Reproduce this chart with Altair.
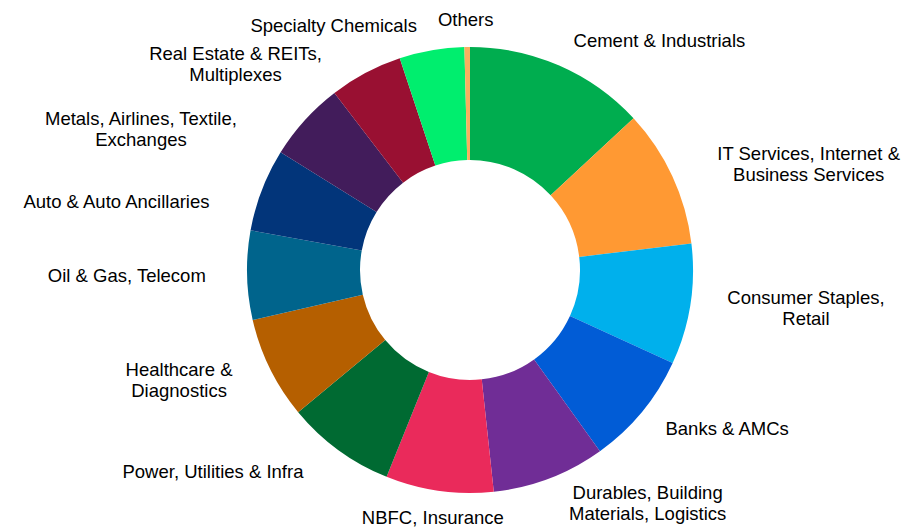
import altair as alt
import pandas as pd

categories = [
    "Cement & Industrials",
    "IT Services, Internet &\nBusiness Services",
    "Consumer Staples,\nRetail",
    "Banks & AMCs",
    "Durables, Building\nMaterials, Logistics",
    "NBFC, Insurance",
    "Power, Utilities & Infra",
    "Healthcare &\nDiagnostics",
    "Oil & Gas, Telecom",
    "Auto & Auto Ancillaries",
    "Metals, Airlines, Textile,\nExchanges",
    "Real Estate & REITs,\nMultiplexes",
    "Specialty Chemicals",
    "Others",
]
values = [13.1, 10.0, 8.75, 8.25, 8.2, 7.8, 7.9, 7.4, 6.45, 6.0, 5.75, 5.3, 4.7, 0.4]
colors = [
    "#00AD4F", "#FF9933", "#00B0EC", "#015CD6", "#702D96", "#EA2A5B", "#006A32",
    "#B55F00", "#00648C", "#02357A", "#421C5B", "#991032", "#00EE6E", "#F8B060",
]

df = pd.DataFrame({"category": categories, "value": values, "idx": list(range(len(values)))})

CX, CY = 462, 262          # donut centre inside the plot area
FS, LH = 18.5, 21          # label font size / line height
A, B_TOP, B_BOT = 270, 250, 250   # label ellipse radii
K = 0.14                   # spread of the crowded upper-left labels

arcs = alt.Chart(df).mark_arc(
    outerRadius=223, innerRadius=110, x=CX, y=CY
).encode(
    theta=alt.Theta("value:Q", stack=True, scale=alt.Scale(domain=[0, 100], range=[0, 6.283185307])),
    color=alt.Color("category:N", scale=alt.Scale(domain=categories, range=colors), legend=None),
    order=alt.Order("idx:Q"),
)

labels = alt.Chart(df).transform_window(
    cum="sum(value)", sort=[alt.SortField("idx")]
).transform_joinaggregate(
    total="sum(value)"
).transform_calculate(
    t0="(datum.cum - datum.value / 2) / datum.total * 2 * PI",
).transform_calculate(
    t=f"datum.t0 + (datum.t0 > 1.5 * PI ? {K} * sin(2 * datum.t0) : 0)",
).transform_calculate(
    b=f"cos(datum.t) > 0 ? {B_TOP} : {B_BOT}",
    l0="split(datum.category, '\\n')[0]",
    l1="split(datum.category, '\\n')[1] || ''",
    nl="length(split(datum.category, '\\n'))",
).transform_calculate(
    halfw=f"max(length(datum.l0), length(datum.l1)) * 0.44 * {FS} / 2",
    side="sin(datum.t) > 0.17 ? 1 : (sin(datum.t) < -0.17 ? -1 : 0)",
).transform_calculate(
    lx=f"{CX} + {A} * sin(datum.t) + datum.side * datum.halfw",
    ly=f"{CY} - datum.b * cos(datum.t) - (datum.nl - 1) * {LH} / 2",
).mark_text(
    align="center", baseline="middle", font="Liberation Sans", fontSize=FS,
    lineHeight=LH, color="#000000", lineBreak="\n",
).encode(
    x=alt.X("lx:Q", scale=None, axis=None),
    y=alt.Y("ly:Q", scale=None, axis=None),
    text="category:N",
)

chart = alt.layer(arcs, labels).properties(
    width=907, height=524, padding=0, autosize=alt.AutoSizeParams(type="none")
).configure_view(stroke=None)

chart.save("out.html", embed_options={"renderer": "svg", "actions": False})
